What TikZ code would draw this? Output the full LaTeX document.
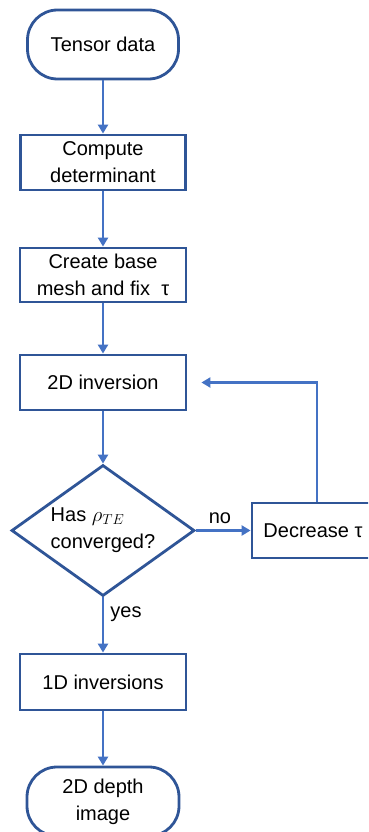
\documentclass[tikz,border=0pt]{standalone}
\usepackage{fontspec}
\setmainfont{Liberation Sans}
\usetikzlibrary{shapes.geometric,arrows.meta}
\definecolor{boxblue}{RGB}{47,85,151}
\definecolor{arrowblue}{RGB}{68,114,196}

\begin{document}
\begin{tikzpicture}[x=1pt,y=-1pt,
    box/.style={draw=boxblue,line width=2.8pt,rectangle,minimum width=166pt,minimum height=55pt,inner sep=0pt,align=center,font=\fontsize{20}{27}\selectfont},
    terminal/.style={box,rounded corners=30pt,minimum width=151pt,minimum height=69pt},
    decision/.style={box,diamond,aspect=1.4,minimum width=183pt,minimum height=131pt,align=left},
    label/.style={inner sep=0pt,font=\fontsize{20}{24}\selectfont},
    flow/.style={draw=arrowblue,line width=2.5pt,-{Triangle[length=9pt,width=10pt]}}]
      \clip (0,0) rectangle (368,832);
      % main chain
      \node[terminal] (data) at (103,44.5) {Tensor data};
      \node[box,minimum width=165pt] (det) at (103,162.5) {Compute\\determinant};
      \node[box,minimum height=54pt] (mesh) at (103,275) {Create base\\mesh and fix\ \ τ};
      \node[box] (inv2d) at (103,382.5) {2D inversion};
      \node[decision] (conv) at (103,530.5) {Has $\rho_{TE}$\\converged?};
      \node[box,minimum width=122pt] (dec) at (313,530.5) {Decrease τ};
      \node[box,minimum height=56pt] (inv1d) at (103,682) {1D inversions};
      \node[terminal,minimum width=152pt] (depth) at (103,801.5) {2D depth\\image};
      \node[label] (no) at (220,518) {no};
      \node[label] (yes) at (126,614) {yes};
      \coordinate (back) at (317,382);
      % connectors
      \draw[flow] (data) -- (det);
      \draw[flow] (det) -- (mesh);
      \draw[flow] (mesh) -- (inv2d);
      \draw[flow] (inv2d) -- (conv);
      \draw[flow] (conv) -- (dec);
      \draw[flow,shorten >=14pt] (dec.north -| back) |- (inv2d.east);
      \draw[flow] (conv) -- (inv1d);
      \draw[flow] (inv1d) -- (depth);
    \end{tikzpicture}
\end{document}
